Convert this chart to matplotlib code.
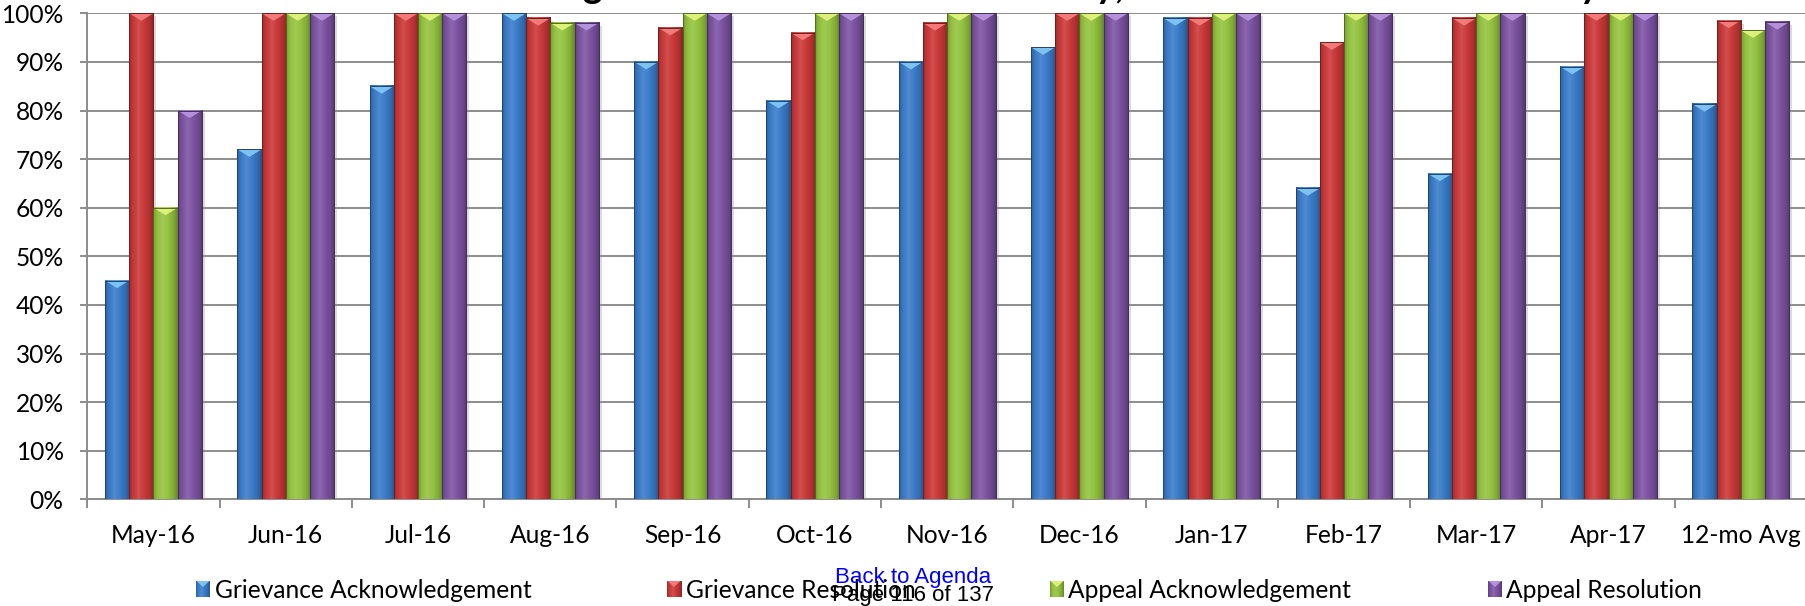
import numpy as np
import matplotlib
matplotlib.use("Agg")
import matplotlib.pyplot as plt
from matplotlib.patches import Polygon, Rectangle
from matplotlib.colors import to_rgb

# ---- data -------------------------------------------------------------
months = ["May-16", "Jun-16", "Jul-16", "Aug-16", "Sep-16", "Oct-16", "Nov-16",
          "Dec-16", "Jan-17", "Feb-17", "Mar-17", "Apr-17", "12-mo Avg"]
grievance_ack = [45, 72, 85, 100, 90, 82, 90, 93, 99, 64, 67, 89, 81.3]
grievance_res = [100, 100, 100, 99, 97, 96, 98, 100, 99, 94, 99, 100, 98.5]
appeal_ack = [60, 100, 100, 98, 100, 100, 100, 100, 100, 100, 100, 100, 96.5]
appeal_res = [80, 100, 100, 98, 100, 100, 100, 100, 100, 100, 100, 100, 98.2]
series_names = ["Grievance Acknowledgement", "Grievance Resolution",
                "Appeal Acknowledgement", "Appeal Resolution"]
y_ticks = list(range(0, 101, 10))

series_values = [grievance_ack, grievance_res, appeal_ack, appeal_res]
series_colors = ["#3A7BC8", "#C93838", "#93C23F", "#7C53A2"]
cap_colors = ["#7CC3F2", "#F27A78", "#DDF07A", "#B591DC"]

FONT = "Lato"
W, H = 1806, 606
fig = plt.figure(figsize=(W / 100, H / 100), dpi=100)
fig.patch.set_facecolor("white")
ax = fig.add_axes([87.3 / W, 106.7 / H, (1807 - 87.3) / W, 486.0 / H])

renderer = fig.canvas.get_renderer()


def text_width(text, size, family, weight="normal"):
    t = fig.text(0, 0, text, fontsize=size, family=family, weight=weight)
    w = t.get_window_extent(renderer).width
    t.remove()
    return w


label_size = 18 * 316 / text_width("Grievance Acknowledgement", 18, FONT)


def shade(c, f):
    c = np.array(to_rgb(c))
    if f >= 1:
        return c + (1 - c) * (f - 1)
    return c * f


def gradient(color, n=64):
    pos = [0.0, 0.12, 0.38, 0.62, 0.85, 1.0]
    fac = [0.78, 0.95, 1.12, 1.0, 0.86, 0.68]
    t = np.linspace(0, 1, n)
    f = np.interp(t, pos, fac)
    return np.array([[shade(color, v) for v in f]])


n = len(months)
x = np.arange(n)
bw = 0.183
offsets = (np.arange(4) - 1.5) * bw
px_per_unit = 486.0 / 100.0
cap_depth = 7.5 / px_per_unit
shadow_w = 3.0 / (1720.0 / 13.0)

for k, (vals, col, capc) in enumerate(zip(series_values, series_colors, cap_colors)):
    bars = ax.bar(x + offsets[k], vals, width=bw, color=col, linewidth=0, zorder=3)
    grad = gradient(col)
    for b in bars:
        x0, w, h = b.get_x(), b.get_width(), b.get_height()
        # soft shadow on the right side
        ax.add_patch(Rectangle((x0 + w, 0), shadow_w, h - 0.6, color="#9a9a9a",
                               alpha=0.35, lw=0, zorder=2.9))
        ax.imshow(grad, extent=[x0, x0 + w, 0, h], aspect="auto",
                  interpolation="bilinear", zorder=3.1)
        ax.add_patch(Polygon([[x0, h], [x0 + w, h], [x0 + w / 2, h - cap_depth]],
                             closed=True, color=capc, lw=0, zorder=3.2))
        ax.add_patch(Rectangle((x0, 0), w, h, fill=False, ec=shade(col, 0.55),
                               lw=0.7, zorder=3.3))

ax.set_xlim(-0.5, n - 0.5)
ax.set_ylim(0, 100)
ax.set_axisbelow(True)
ax.yaxis.grid(True, color="#8C8C8C", linewidth=1.4)

grid_gray = "#8C8C8C"
for s in ["top", "right"]:
    ax.spines[s].set_visible(False)
for s in ["left", "bottom"]:
    ax.spines[s].set_color(grid_gray)
    ax.spines[s].set_linewidth(1.4)

ax.set_xticks(x)
ax.set_xticklabels(months, fontsize=label_size, family=FONT)
ax.set_xticks(np.arange(-0.5, n, 1.0), minor=True)
ax.tick_params(axis="x", which="major", length=0, pad=18)
ax.tick_params(axis="x", which="minor", length=6.5, width=1.4, color=grid_gray)

ax.set_yticks(y_ticks)
ax.set_yticklabels([f"{v}%" for v in y_ticks], fontsize=label_size, family=FONT)
ax.tick_params(axis="y", length=5, width=1.4, color=grid_gray, pad=12)

# legend swatches and labels
legend_sq = [196, 667, 1050, 1488]
legend_tx = [215, 686, 1068, 1506]
ly = 589
for k in range(4):
    sx = fig.add_axes([legend_sq[k] / W, (H - ly - 8.5) / H, 14 / W, 17 / H])
    sx.imshow(gradient(series_colors[k]), extent=[0, 1, 0, 1], aspect="auto",
              interpolation="bilinear")
    sx.add_patch(Polygon([[0, 1], [1, 1], [0.5, 0.62]], closed=True,
                         color=cap_colors[k], lw=0))
    sx.set_xlim(0, 1)
    sx.set_ylim(0, 1)
    sx.axis("off")
    fig.text(legend_tx[k] / W, (H - ly) / H, series_names[k], fontsize=label_size,
             family=FONT, ha="left", va="center_baseline")

# title, running off the top edge of the page
title = "Percent of Cases Meeting Timeliness Standards Monthly, Twelve Months in Summary"
tsize = 27
pre_w = text_width(title[:title.index("g")], tsize, FONT, weight="bold")
fig.text((585 - pre_w - 2) / W, (H + 1.5) / H, title, fontsize=tsize, family=FONT,
         weight="bold", ha="left", va="baseline")

# page footer overlay
fig.text(913 / W, (H - 577) / H, "Back to Agenda", color="#0000FF", fontsize=16,
         family="Liberation Sans", ha="center", va="center")
fig.text(913 / W, (H - 596) / H, "Page 116 of 137", color="black", fontsize=16,
         family="Liberation Sans", ha="center", va="center")

fig.savefig("out.png", dpi=100, facecolor="white")
